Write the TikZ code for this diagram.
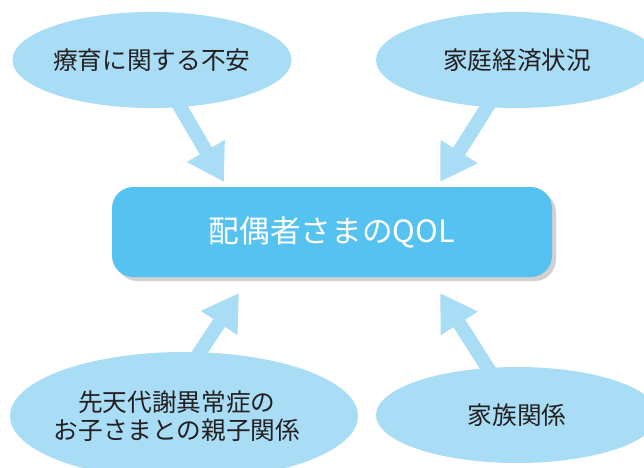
\documentclass[tikz,border=0pt]{standalone}
\usepackage{fontspec}
\setmainfont{Noto Sans CJK JP}
\usetikzlibrary{arrows.meta,shapes.geometric,shadows}
\definecolor{mainblue}{HTML}{56C2F0}
\definecolor{lightblue}{HTML}{A9DDF6}
\definecolor{txtdark}{HTML}{231F20}
\tikzset{
  bubble/.style={ellipse, fill=lightblue, inner sep=0pt, text=txtdark,
    font=\fontsize{18.5pt}{21pt}\selectfont, align=center},
  mainbox/.style={rectangle, rounded corners=16pt, fill=mainblue, text=white,
    minimum width=330pt, minimum height=67.5pt,
    font=\fontsize{23pt}{27pt}\selectfont,
    drop shadow={shadow xshift=3pt, shadow yshift=-3pt, fill=black!40, opacity=0.45}},
  bigarrow/.style={draw=lightblue, line width=10.5pt,
    -{Triangle[length=27pt,width=31pt]}}
}
\begin{document}
\begin{tikzpicture}[x=0.75pt,y=-0.75pt]
\useasboundingbox (0,0) rectangle (644,468);
\clip (0,0) rectangle (644,468);
% start (inside bubbles) and tip coordinates
\coordinate (s1) at (172,93);
\coordinate (t1) at (224,182);
\coordinate (s2) at (496,93);
\coordinate (t2) at (440,182);
\coordinate (s3) at (190,367);
\coordinate (t3) at (239,293);
\coordinate (s4) at (496,381);
\coordinate (t4) at (440,293);
% arrows
\draw[bigarrow] (s1) -- (t1);
\draw[bigarrow] (s2) -- (t2);
\draw[bigarrow] (s3) -- (t3);
\draw[bigarrow] (s4) -- (t4);
% bubbles
\node[bubble, minimum width=204pt, minimum height=72pt] (e1) at (152,60) {療育に関する不安};
\node[bubble, minimum width=211.5pt, minimum height=72pt] (e2) at (517,60) {家庭経済状況};
\node[bubble, minimum width=261pt, minimum height=96pt] (e3) at (184,416) {};
\node[font=\fontsize{18.5pt}{21pt}\selectfont, text=txtdark, align=center] (e3t) at (177,416) {先天代謝異常症の\\お子さまとの親子関係};
\node[bubble, minimum width=211.5pt, minimum height=72pt] (e4) at (517,415) {家族関係};
% main box
\node[mainbox] (m) at (332,232) {配偶者さまのQOL};
\end{tikzpicture}
\end{document}
